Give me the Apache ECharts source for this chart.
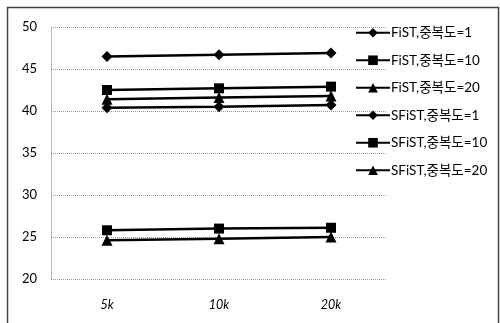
<!DOCTYPE html>
<html>
<head>
<meta charset="utf-8">
<script src="https://cdn.jsdelivr.net/npm/echarts@6/dist/echarts.min.js"></script>
<style>html,body{margin:0;padding:0;background:#fff}#c{width:500px;height:323px}</style>
</head>
<body>
<div id="c"></div>
<script>
const categories = ['5k', '10k', '20k'];
const seriesNames = ['FiST,중복도=1', 'FiST,중복도=10', 'FiST,중복도=20', 'SFiST,중복도=1', 'SFiST,중복도=10', 'SFiST,중복도=20'];
const fist1 = [46.5, 46.7, 46.9];
const fist10 = [42.5, 42.7, 42.9];
const fist20 = [41.4, 41.6, 41.8];
const sfist1 = [40.4, 40.5, 40.7];
const sfist10 = [25.8, 26.0, 26.1];
const sfist20 = [24.6, 24.8, 25.0];
const yTicks = [20, 25, 30, 35, 40, 45, 50];

const seriesData = [fist1, fist10, fist20, sfist1, sfist10, sfist20];
const symbols = ['diamond', 'rect', 'triangle', 'diamond', 'rect', 'triangle'];
const font = 'Lato, "Noto Sans CJK KR", sans-serif';

const chart = echarts.init(document.getElementById('c'));
chart.setOption({
  animation: false,
  backgroundColor: '#fff',
  graphic: [{
    type: 'rect', left: 5, top: 5, shape: { width: 491, height: 320 },
    style: { fill: 'none', stroke: '#444', lineWidth: 1.5 }, silent: true
  }],
  grid: { left: 51, right: 113, top: 27, bottom: 44, containLabel: false },
  legend: {
    orient: 'vertical', left: 350, top: 21, itemGap: 14,
    itemWidth: 34, itemHeight: 12,
    textStyle: { color: '#000', fontSize: 13.5, fontFamily: font, padding: [0, 0, 0, -4] },
    data: seriesNames
  },
  xAxis: {
    type: 'category', data: categories, boundaryGap: true,
    axisLine: { show: false }, axisTick: { show: false },
    axisLabel: { color: '#000', fontSize: 12.5, fontFamily: font, fontStyle: 'italic', margin: 20 }
  },
  yAxis: {
    type: 'value', min: 20, max: 50, interval: 5,
    axisLine: { show: true, lineStyle: { color: '#aaa', type: 'dotted' } },
    axisTick: { show: false },
    splitLine: { show: true, lineStyle: { color: '#999', type: 'dotted', width: 1 } },
    axisLabel: { color: '#000', fontSize: 13, fontFamily: font, margin: 14,
      formatter: v => yTicks.includes(v) ? String(v) : '' }
  },
  series: seriesNames.map((n, i) => ({
    name: n, type: 'line', data: seriesData[i],
    symbol: symbols[i], symbolSize: symbols[i] === 'rect' ? 10 : 11,
    lineStyle: { color: '#000', width: 2.5 },
    itemStyle: { color: '#000' }
  }))
});
</script>
</body>
</html>
